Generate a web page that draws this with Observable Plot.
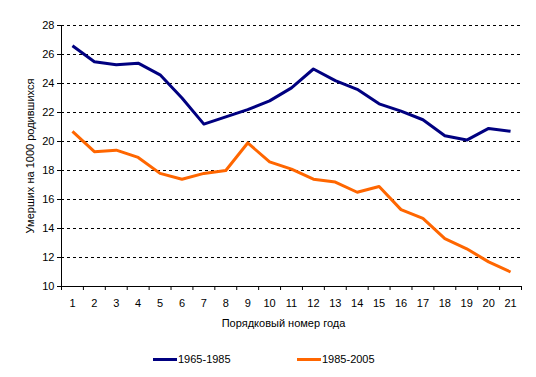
<!DOCTYPE html>
<html><head><meta charset="utf-8">
<script src="https://cdn.jsdelivr.net/npm/d3@7"></script>
<script src="https://cdn.jsdelivr.net/npm/@observablehq/plot@0.6"></script>
<style>
body{margin:0;background:#fff;font-family:"Liberation Sans",Arial,sans-serif;}
#wrap{position:relative;width:536px;height:377px;}
.leg{position:absolute;top:352px;font-size:11px;line-height:14px;color:#000;display:flex;align-items:center;}
.sw{display:inline-block;width:24px;height:3px;margin-right:1px;}
</style>
</head><body><div id="wrap"><div id="chart"></div>
<div class="leg" style="left:153px"><span class="sw" style="background:#000080"></span>1965-1985</div>
<div class="leg" style="left:297px"><span class="sw" style="background:#FF6600"></span>1985-2005</div>
</div>
<script>
const yearNumbers = [1,2,3,4,5,6,7,8,9,10,11,12,13,14,15,16,17,18,19,20,21];
const series1Name = "1965-1985";
const series1 = [26.6,25.5,25.3,25.4,24.6,23.0,21.2,21.7,22.2,22.8,23.7,25.0,24.2,23.6,22.6,22.1,21.5,20.4,20.1,20.9,20.7];
const series2Name = "1985-2005";
const series2 = [20.7,19.3,19.4,18.9,17.8,17.4,17.8,18.0,19.9,18.6,18.1,17.4,17.2,16.5,16.9,15.3,14.7,13.3,12.6,11.7,11.0];
const yTicks = [10,12,14,16,18,20,22,24,26,28];
const xBoundaries = yearNumbers.map(d => d - 0.5).concat([21.5]);
const yLabel = "Умерших на 1000 родившихся";
const xLabel = "Порядковый номер года";

const data = yearNumbers.flatMap((n, i) => [
  {n, v: series1[i], s: series1Name},
  {n, v: series2[i], s: series2Name}
]);

const chart = Plot.plot({
  width: 536, height: 340,
  marginTop: 25, marginBottom: 54, marginLeft: 61, marginRight: 15,
  style: {fontFamily: '"Liberation Sans", Arial, sans-serif', fontSize: "11px", color: "#000", background: "#fff"},
  x: {domain: [0.5, 21.5]},
  y: {domain: [10, 28]},
  color: {domain: [series1Name, series2Name], range: ["#000080", "#FF6600"]},
  marks: [
    Plot.ruleY(yTicks.slice(1), {stroke: "#000", strokeDasharray: "3,3", strokeWidth: 1}),
    Plot.axisY(yTicks, {tickSize: 4, tickPadding: 3, label: null, stroke: "#000", strokeOpacity: 1}),
    Plot.axisX(xBoundaries, {tickSize: 4, tickFormat: () => "", label: null, stroke: "#000", strokeOpacity: 1}),
    Plot.axisX(yearNumbers, {tickSize: 0, tickPadding: 13, label: null}),
    Plot.ruleX([0.5], {stroke: "#000"}),
    Plot.ruleY([10], {stroke: "#000"}),
    Plot.line(data, {x: "n", y: "v", z: "s", stroke: "s", strokeWidth: 3, strokeLinejoin: "round", strokeLinecap: "butt"}),
    Plot.text([yLabel], {frameAnchor: "left", rotate: -90, dx: -31, textAnchor: "middle", lineAnchor: "middle", fill: "#000"}),
    Plot.text([xLabel], {frameAnchor: "bottom", dy: 37, dx: -8, textAnchor: "middle", lineAnchor: "middle", fill: "#000"})
  ]
});
document.getElementById("chart").appendChild(chart);
</script>
</body></html>
